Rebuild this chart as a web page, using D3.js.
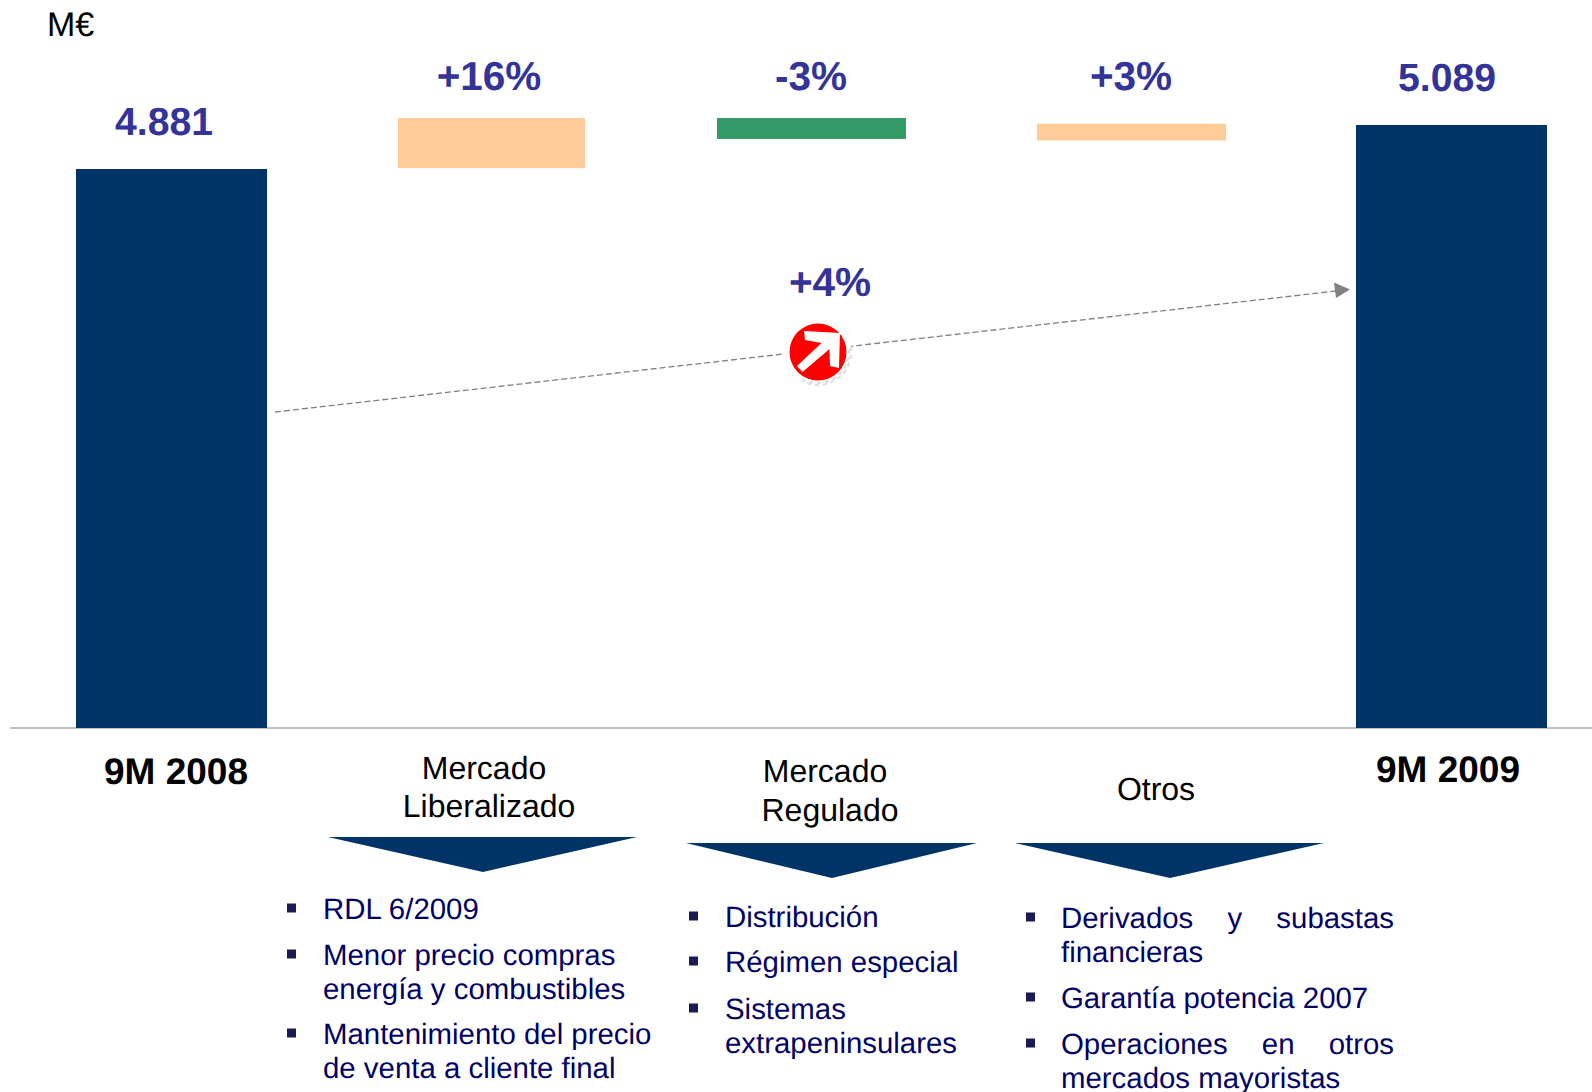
<!DOCTYPE html>
<html>
<head>
<meta charset="utf-8">
<title>M€ 9M 2008 - 9M 2009</title>
<script src="https://cdn.jsdelivr.net/npm/d3@7"></script>
<style>
	html, body { margin: 0; padding: 0; background: #fff; }
	svg { display: block; }
	text { font-family: "Liberation Sans", Arial, sans-serif; text-rendering: geometricPrecision; }
</style>
</head>
<body>
<script>
// chart values
const categories = ['9M 2008','Mercado Liberalizado','Mercado Regulado','Otros','9M 2009'];
const totalCategories = ['9M 2008','9M 2009'];
const totalValues = [4881,5089];
const totalLabels = ['4.881','5.089'];
const stepCategories = ['Mercado Liberalizado','Mercado Regulado','Otros'];
const stepFrom = [4885,5122,5016]; // bottom or top of each floating bar, M€
const stepTo = [5122,5023,5095];
const stepLabels = ['+16%','-3%','+3%'];
const stepColors = ['#ffcc99','#339966','#ffcc99'];
const unitLabel = 'M€';
const trendLabel = '+4%';
const axisFloor = 2238; // the bars do not start at zero
const categoryLines = [['9M 2008'],['Mercado','Liberalizado'],['Mercado','Regulado'],['Otros'],['9M 2009']];
const bulletsLiberalizado = [['RDL 6/2009'],['Menor precio compras','energía y combustibles'],['Mantenimiento del precio','de venta a cliente final']];
const bulletsRegulado = [['Distribución'],['Régimen especial'],['Sistemas','extrapeninsulares']];
const bulletsOtros = [['Derivados y subastas','financieras'],['Garantía potencia 2007'],['Operaciones en otros','mercados mayoristas']];

// configure graph
const width = 1592;
const height = 1092;
const navy = '#003366';
const labelBlue = '#333399';
const bulletBlue = '#000066';
const stepInset = [2,1,1]; // floating bars are a little narrower than the band

const svg = d3.select('body').append('svg').attr('width',width).attr('height',height);

const x = d3.scaleBand().domain(categories).range([76,1547]).paddingInner(0.403).paddingOuter(0);
const y = d3.scaleLinear().domain([axisFloor,totalValues[1]]).range([728,125]);

// baseline
svg.append('line').attr('x1',10).attr('x2',width).attr('y1',y(axisFloor)).attr('y2',y(axisFloor))
	.attr('stroke','#c0c0c0').attr('stroke-width',2);

// total bars
svg.append('g').selectAll('rect').data(totalValues).enter().append('rect')
	.attr('x',(d,i)=>x(totalCategories[i]))
	.attr('width',x.bandwidth())
	.attr('y',d=>y(d))
	.attr('height',d=>y(axisFloor)-y(d))
	.attr('fill',navy);

// floating bars
svg.append('g').selectAll('rect').data(stepFrom).enter().append('rect')
	.attr('x',(d,i)=>x(stepCategories[i])+stepInset[i])
	.attr('width',(d,i)=>x.bandwidth()-2*stepInset[i])
	.attr('y',(d,i)=>y(Math.max(d,stepTo[i])))
	.attr('height',(d,i)=>Math.abs(y(d)-y(stepTo[i])))
	.attr('fill',(d,i)=>stepColors[i]);

// value labels
function bigLabel(txt,cx,base,size){
	svg.append('text').attr('x',cx).attr('y',base).attr('text-anchor','middle')
		.attr('font-size',size).attr('font-weight','bold').attr('fill',labelBlue).text(txt);
}
const totalLabelPos = [[164,135],[1447,91]];
totalLabels.forEach((t,i)=>bigLabel(t,totalLabelPos[i][0],totalLabelPos[i][1],39.2));
const stepLabelPos = [[489,89.5],[811,89.5],[1131,89.5]];
stepLabels.forEach((t,i)=>bigLabel(t,stepLabelPos[i][0],stepLabelPos[i][1],40.5));
bigLabel(trendLabel,830,296,40.5);

svg.append('text').attr('x',47).attr('y',36).attr('font-size',34).attr('fill','#000').text(unitLabel);

// dashed trend arrow
svg.append('line').attr('x1',275).attr('y1',412).attr('x2',1336).attr('y2',291)
	.attr('stroke','#808080').attr('stroke-width',1.3).attr('stroke-dasharray','6,3');
svg.append('path').attr('d','M1350,289.5L1334,282.5L1336,298Z').attr('fill','#808080');

// red arrow icon
const icon = svg.append('g').attr('transform','translate(818,352)');
icon.append('circle').attr('r',34).attr('fill','#fff');
icon.append('path')
	.attr('d',d3.arc()({innerRadius:31,outerRadius:33,startAngle:Math.PI*0.45,endAngle:Math.PI*1.15}))
	.attr('fill','none').attr('stroke','#ddd').attr('stroke-width',2).attr('stroke-dasharray','4,4');
icon.append('circle').attr('r',28.5).attr('fill','#f00');
icon.append('path')
	.attr('d','M-14,-21L22,-19L21,16L12,14L11.5,-3L-15.5,20L-21,14L3.5,-9L-13,-12Z')
	.attr('fill','#fff');

// category labels under the axis
const categoryBase = [[784],[779,817],[782,821],[800],[782]];
const categoryX = [[176],[484,489],[825,830],[1156],[1448]];
categoryLines.forEach((lines,i)=>{
	let isTotal = i==0 || i==4;
	lines.forEach((line,j)=>{
		svg.append('text').attr('x',categoryX[i][j]).attr('y',categoryBase[i][j])
			.attr('text-anchor','middle')
			.attr('font-size',isTotal?37:32)
			.attr('font-weight',isTotal?'bold':'normal')
			.attr('fill','#000').text(line);
	});
});

// pointers under the three middle categories
const pointerShape = [[328,637,483,837,872],[686,977,832,843,878],[1015,1324,1170,843,878]];
svg.append('g').selectAll('path').data(pointerShape).enter().append('path')
	.attr('d',d=>d3.line()([[d[0],d[3]],[d[1],d[3]],[d[2],d[4]]])+'Z')
	.attr('fill',navy);

// bullet lists
function drawBullets(items,textX,squareX,bases,justifyTo){
	items.forEach((lines,i)=>{
		svg.append('rect').attr('x',squareX).attr('y',bases[i][0]-15.5).attr('width',9).attr('height',9)
			.attr('fill','#1a1a55');
		lines.forEach((line,j)=>{
			let t = svg.append('text').attr('x',textX).attr('y',bases[i][j])
				.attr('font-size',29.4).attr('fill',bulletBlue).text(line);
			// first line of a wrapped item is justified in the third column
			if(justifyTo && j==0 && lines.length>1){
				let gaps = line.split(' ').length-1;
				let extra = (justifyTo-textX-t.node().getComputedTextLength())/gaps;
				t.attr('word-spacing',extra);
			}
		});
	});
}
drawBullets(bulletsLiberalizado,323,287,[[919],[965,999],[1044,1078]]);
drawBullets(bulletsRegulado,725,689,[[927],[972],[1019,1052.5]]);
drawBullets(bulletsOtros,1061,1026,[[928,962],[1008],[1054,1088]],1394);
</script>
</body>
</html>
